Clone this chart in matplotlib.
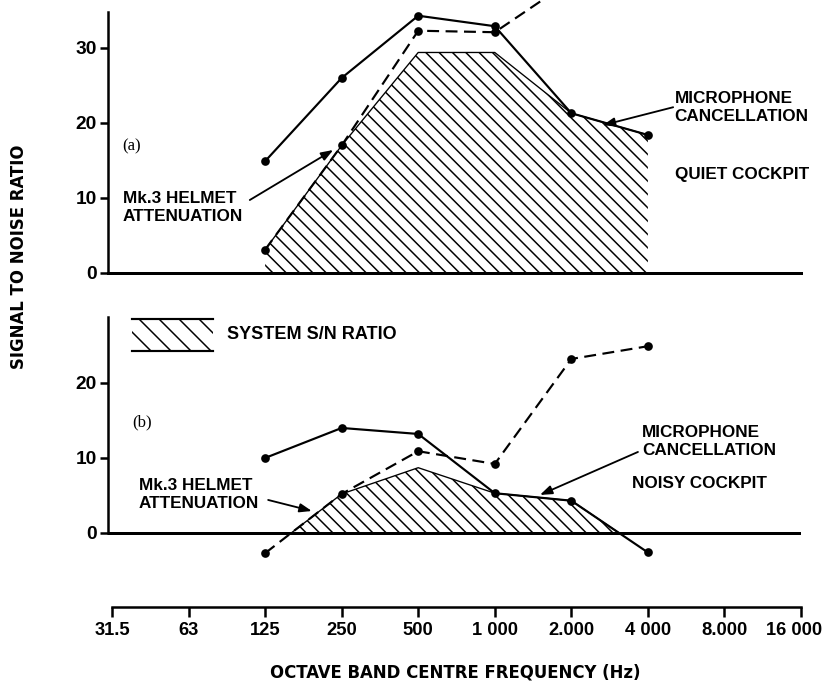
import matplotlib
matplotlib.use('Agg')
import matplotlib.pyplot as plt
import matplotlib.transforms as mtransforms
import numpy as np
from matplotlib.patches import Rectangle
from matplotlib.lines import Line2D

plt.rcParams['hatch.linewidth'] = 0.9
plt.rcParams['font.family'] = ['Liberation Sans', 'DejaVu Sans']

# ---------------- data ----------------
freq_labels = ['31.5', '63', '125', '250', '500', '1 000', '2.000', '4 000', '8.000', '16 000']
band_labels = ['125', '250', '500', '1 000', '2.000', '4 000']

# (a) quiet cockpit
mic_a = [14.9, 26.0, 34.3, 32.9, 21.3, 18.4]          # microphone cancellation (solid)
helmet_a = [3.1, 17.0, 32.3, 32.1, 39.0, np.nan]      # Mk.3 helmet attenuation (dashed)
system_a = [3.1, 17.0, 29.4, 29.4, 21.3, 18.4]        # system S/N ratio (hatched)

# (b) noisy cockpit
mic_b = [10.0, 14.0, 13.2, 5.3, 4.3, -2.6]
helmet_b = [-2.7, 5.2, 10.9, 9.2, 23.2, 24.9]
system_b = [-2.7, 5.2, 8.7, 5.3, 4.3, -2.6]

x = np.array([freq_labels.index(b) for b in band_labels], dtype=float)

# ---------------- figure ----------------
fig = plt.figure(figsize=(6.9, 5.7), dpi=120)
ax1 = fig.add_axes([0.1310, 0.6009, 0.8364, 0.3816])
ax2 = fig.add_axes([0.1310, 0.1126, 0.8364, 0.4240])

XLIM = (-0.046, 9.0)
HATCH = '\\\\\\'
tick_font = dict(family='Liberation Sans', weight='bold', size=11.5)
ann_font = dict(family='Liberation Sans', weight='bold', size=10.3)
dash = (0, (5.5, 3.0))
LW = 1.3
MS = 4.2
LSP = 1.25

def style_left(ax, yticks):
    ax.set_xlim(*XLIM)
    ax.spines['top'].set_visible(False)
    ax.spines['right'].set_visible(False)
    ax.spines['left'].set_linewidth(1.5)
    ax.set_yticks(yticks)
    ax.set_yticklabels([str(t) for t in yticks], fontdict=tick_font)
    ax.tick_params(axis='y', direction='out', length=5, width=1.5, pad=2)

def arrow(ax, tail, head):
    ax.annotate('', xy=head, xytext=tail,
                arrowprops=dict(arrowstyle='-|>,head_length=0.6,head_width=0.22',
                                lw=1.1, color='black', shrinkA=0, shrinkB=0))

# ----- panel (a) -----
style_left(ax1, [0, 10, 20, 30])
ax1.set_ylim(0, 34.8)
ax1.spines['bottom'].set_linewidth(1.8)
ax1.set_xticks([])

ax1.fill_between(x, 0, system_a, facecolor='none', edgecolor='black', hatch=HATCH, linewidth=0, zorder=1)
ax1.plot(x, system_a, color='black', lw=0.8, zorder=2)
ax1.plot(x, mic_a, color='black', lw=LW, marker='o', ms=MS, zorder=3)
ax1.plot(x, helmet_a, color='black', lw=LW, ls=dash, marker='o', ms=MS, zorder=3, clip_on=False)

ax1.text(0.13, 16.9, '(a)', family='Liberation Serif', size=10, va='center', ha='left')
ax1.text(0.144, 8.73, 'Mk.3 HELMET\nATTENUATION', va='center', ha='left', linespacing=LSP, **ann_font)
arrow(ax1, (1.80, 9.73), (2.89, 16.4))
ax1.text(7.35, 22.07, 'MICROPHONE\nCANCELLATION', va='center', ha='left', linespacing=LSP, **ann_font)
arrow(ax1, (7.33, 22.1), (6.41, 19.7))
ax1.text(7.35, 13.07, 'QUIET COCKPIT', va='center', ha='left', **ann_font)

# ----- panel (b) -----
style_left(ax2, [0, 10, 20])
ax2.set_ylim(-9.87, 28.8)
ax2.spines['left'].set_bounds(0, 28.8)
ax2.spines['bottom'].set_bounds(0, 9)
ax2.spines['bottom'].set_linewidth(1.5)
ax2.set_xticks(range(len(freq_labels)))
ax2.set_xticklabels(freq_labels, fontdict=dict(family='Liberation Sans', weight='bold', size=11))
ax2.tick_params(axis='x', direction='out', length=6, width=1.5, pad=3)
last = ax2.get_xticklabels()[-1]
last.set_transform(last.get_transform() + mtransforms.ScaledTranslation(-7 / 120, 0, fig.dpi_scale_trans))
ax2.axhline(0, color='black', lw=1.8, zorder=2)

sb = np.array(system_b)
ax2.fill_between(x, 0, sb, where=sb >= 0, interpolate=True, facecolor='none',
                 edgecolor='black', hatch=HATCH, linewidth=0.8, zorder=1)
ax2.plot(x, mic_b, color='black', lw=LW, marker='o', ms=MS, zorder=3)
ax2.plot(x, helmet_b, color='black', lw=LW, ls=dash, marker='o', ms=MS, zorder=3)

ax2.text(0.26, 14.8, '(b)', family='Liberation Serif', size=10, va='center', ha='left')
ax2.text(0.35, 5.13, 'Mk.3 HELMET\nATTENUATION', va='center', ha='left', linespacing=LSP, **ann_font)
arrow(ax2, (2.04, 4.4), (2.61, 2.93))
ax2.text(6.92, 12.13, 'MICROPHONE\nCANCELLATION', va='center', ha='left', linespacing=LSP, **ann_font)
arrow(ax2, (6.87, 10.8), (5.59, 5.07))
ax2.text(6.79, 6.53, 'NOISY COCKPIT', va='center', ha='left', **ann_font)

# legend
ax2.add_patch(Rectangle((0.0339, 0.883), 0.117, 0.110, transform=ax2.transAxes,
                        facecolor='none', edgecolor='black', hatch='\\\\', linewidth=0))
for yy in (0.883, 0.993):
    ax2.add_line(Line2D([0.0339, 0.151], [yy, yy], transform=ax2.transAxes, color='black', lw=1.3))
ax2.text(0.171, 0.938, 'SYSTEM S/N RATIO', transform=ax2.transAxes, va='center', ha='left',
         family='Liberation Sans', weight='bold', size=10.8)

# axis titles
title_font = dict(family='DejaVu Sans', weight='bold', stretch='condensed', size=11)
fig.text(19.5 / 828, 1 - 257 / 684, 'SIGNAL TO NOISE RATIO', rotation=90, va='center', ha='center', **title_font)
fig.text(455 / 828, 1 - 673 / 684, 'OCTAVE BAND CENTRE FREQUENCY (Hz)', va='center', ha='center', **title_font)

fig.savefig('out.png', dpi=120, facecolor='white')
